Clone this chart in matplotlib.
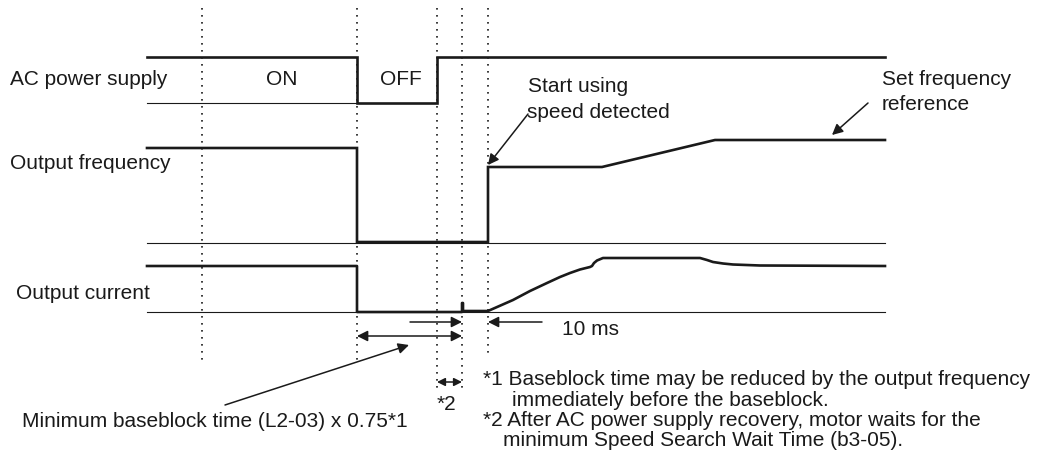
import matplotlib
matplotlib.use("Agg")
import matplotlib.pyplot as plt

plt.rcParams['font.family'] = ['Liberation Sans', 'DejaVu Sans']

# ---- data (diagram units: x = time axis, y = vertical position in drawing) ----
x_start = 147
x_end = 885
t_marks = [202, 357, 437, 462, 488]          # dotted event lines
t_mark_bottom = [360, 360, 393, 390, 358]

# AC power supply
ac_x = [147, 357, 357, 437, 437, 885]
ac_y = [57, 57, 103, 103, 57, 57]
ac_base_x = [147, 357]
ac_base_y = 103

# Output frequency
f_x = [147, 357, 357, 488, 488, 602, 715, 885]
f_y = [148, 148, 242, 242, 167, 167, 140, 140]
f_base_y = 243

# Output current
c_x = [147, 357, 357, 462, 462, 463, 463, 488, 513, 530, 547, 560, 570, 580,
       590, 592, 594, 597, 603, 620, 700, 707, 713, 723, 733, 760, 885]
c_y = [266, 266, 312, 312, 303, 303, 311, 311, 300, 291, 283, 277, 273, 269.5,
       267, 266, 263, 260.5, 258, 258, 258, 260, 262, 263.5, 264.5, 265.5, 266]
c_base_y = 312

labels = ["AC power supply", "Output frequency", "Output current"]
label_pos = [(10, 85), (10, 169), (16, 299)]

footnotes = [
    "*1 Baseblock time may be reduced by the output frequency",
    "immediately before the baseblock.",
    "*2 After AC power supply recovery, motor waits for the",
    "minimum Speed Search Wait Time (b3-05).",
]
footnote_x = [483, 512, 483, 503]

fig = plt.figure(figsize=(10.48, 4.69), dpi=100)
ax = fig.add_axes([0, 0, 1, 1])
ax.set_xlim(0, 1048)
ax.set_ylim(469, 0)
ax.axis('off')

K = '#1a1a1a'
thick = 1.9
thin = 0.8
fs = 15

# dotted lines
for x, yb in zip(t_marks, t_mark_bottom):
    ax.plot([x, x], [8, yb], color=K, lw=1.2, linestyle=(0, (1, 3.2)))

# baselines
ax.plot(ac_base_x, [ac_base_y] * 2, color=K, lw=thin)
ax.plot([x_start, x_end], [f_base_y] * 2, color=K, lw=thin)
ax.plot([x_start, x_end], [c_base_y] * 2, color=K, lw=thin)

# signals
ax.plot(ac_x, ac_y, color=K, lw=thick, solid_joinstyle='miter')
ax.plot(f_x, f_y, color=K, lw=thick, solid_joinstyle='miter')
ax.plot(c_x, c_y, color=K, lw=thick, solid_joinstyle='round')

# labels
for s, (x, y) in zip(labels, label_pos):
    ax.text(x, y, s, fontsize=fs, color=K, va='baseline', ha='left')
ax.text(282, 85, "ON", fontsize=fs, color=K, va='baseline', ha='center')
ax.text(401, 85, "OFF", fontsize=fs, color=K, va='baseline', ha='center')

ax.text(528, 92, "Start using", fontsize=fs, color=K, va='baseline')
ax.text(527, 118, "speed detected", fontsize=fs, color=K, va='baseline')
ax.text(882, 85, "Set frequency", fontsize=fs, color=K, va='baseline')
ax.text(882, 110, "reference", fontsize=fs, color=K, va='baseline')

ap = dict(arrowstyle='-|>', color=K, lw=1.1, mutation_scale=16, shrinkA=0, shrinkB=0)
ap2 = dict(arrowstyle='<|-|>', color=K, lw=1.1, mutation_scale=16, shrinkA=0, shrinkB=0)

ax.annotate("", xy=(488, 165), xytext=(528, 114), arrowprops=ap)
ax.annotate("", xy=(832, 135), xytext=(868, 103), arrowprops=ap)

# timing arrows
ax.annotate("", xy=(462, 322), xytext=(410, 322), arrowprops=ap)
ax.annotate("", xy=(488, 322), xytext=(542, 322), arrowprops=ap)
ax.text(562, 335, "10 ms", fontsize=fs, color=K, va='baseline')
ax.annotate("", xy=(462, 336), xytext=(357, 336), arrowprops=ap2)
ax.annotate("", xy=(462, 382), xytext=(437, 382),
            arrowprops=dict(arrowstyle='<|-|>', color=K, lw=1.1, mutation_scale=12,
                            shrinkA=0, shrinkB=0))
ax.text(437, 410, "*2", fontsize=fs, color=K, va='baseline')
ax.annotate("", xy=(409, 345), xytext=(225, 405), arrowprops=ap)
ax.text(22, 427, "Minimum baseblock time (L2-03) x 0.75*1", fontsize=fs, color=K,
        va='baseline')

for i, (s, x) in enumerate(zip(footnotes, footnote_x)):
    ax.text(x, 385 + i * 20.5, s, fontsize=fs, color=K, va='baseline')

fig.savefig("out.png", dpi=100)
